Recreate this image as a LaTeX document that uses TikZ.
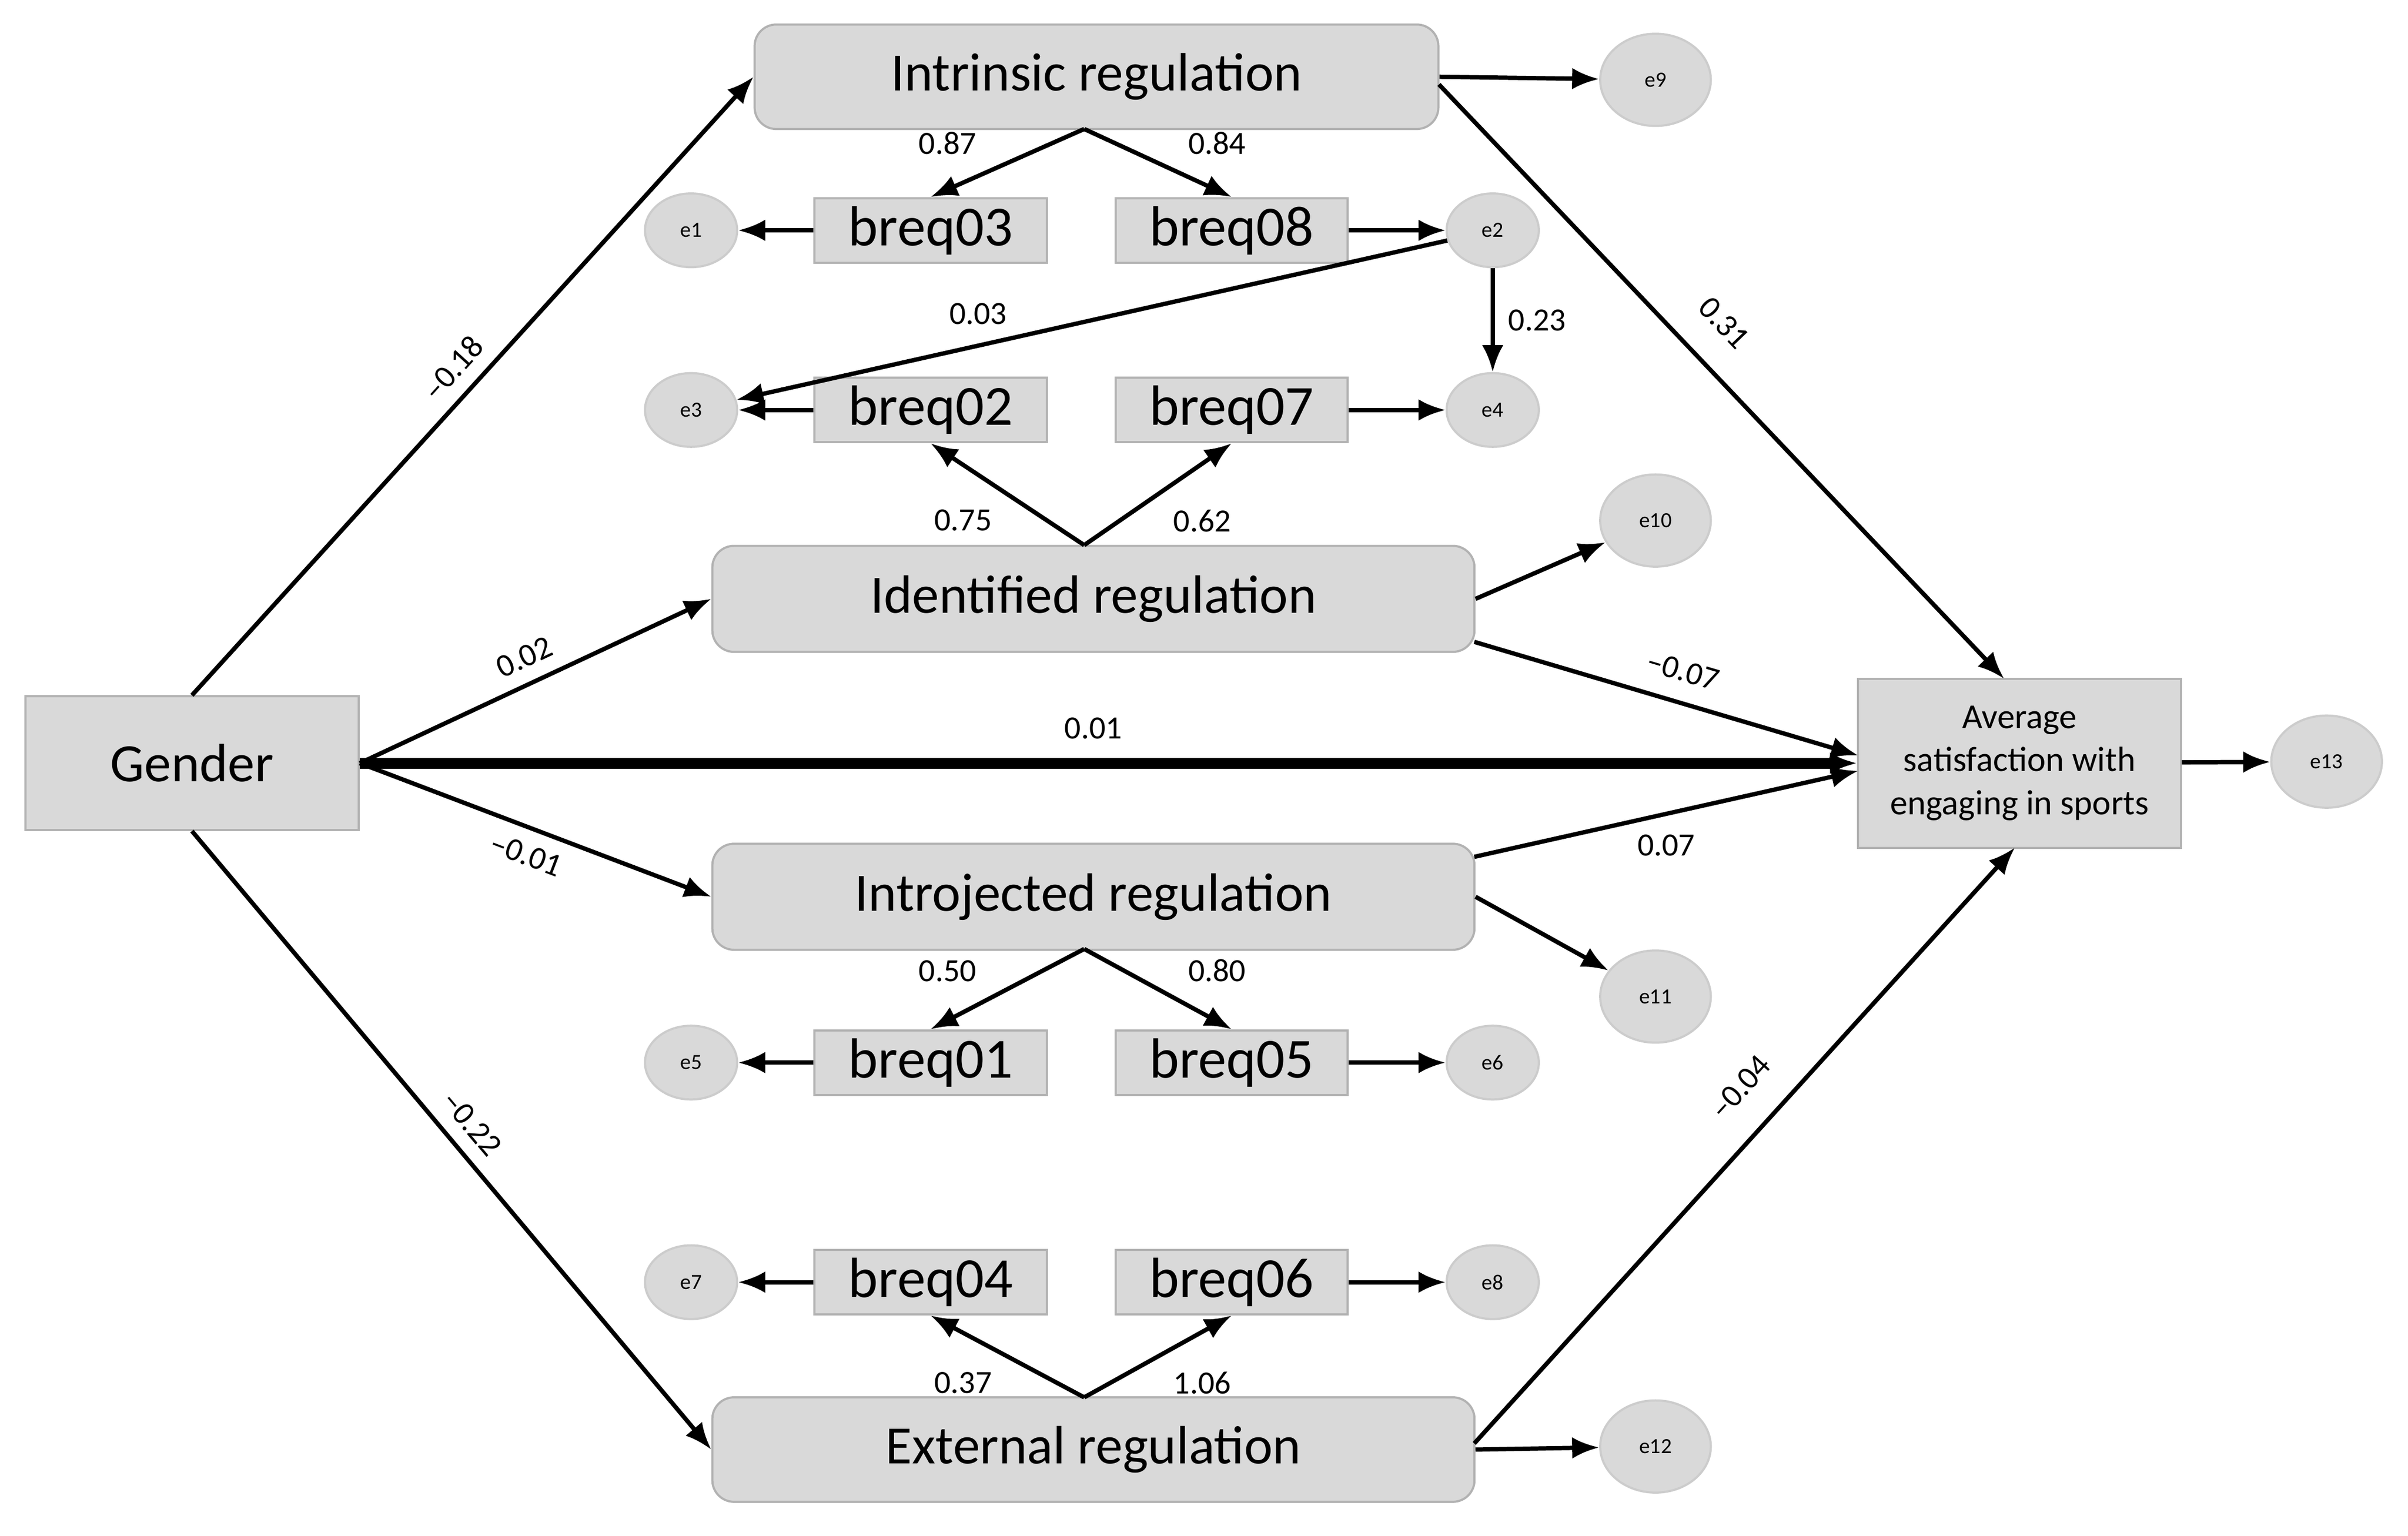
\documentclass[tikz,border=0pt]{standalone}
\usepackage{fontspec}
\setmainfont{Carlito}
\usetikzlibrary{arrows.meta,shapes.geometric}
\begin{document}
\begin{tikzpicture}[x=0.01cm,y=-0.01cm,
 big/.style={draw=gray!60,fill=gray!30,rounded corners=4pt,minimum width=4.96cm,minimum height=0.69cm,font=\fontsize{10}{12}\selectfont},
 item/.style={draw=gray!60,fill=gray!30,minimum width=1.51cm,minimum height=0.42cm,inner sep=0,font=\fontsize{10.5}{12}\selectfont},
 err/.style={ellipse,fill=gray!30,draw=gray!40,minimum width=0.6cm,minimum height=0.48cm,inner sep=0,font=\fontsize{4}{5}\selectfont},
 errb/.style={err,minimum width=0.72cm,minimum height=0.6cm},
 ar/.style={-{Latex[length=5pt,width=4pt]},line width=0.8pt},
 lb/.style={font=\fontsize{6}{7}\selectfont,inner sep=2.5pt}]
\useasboundingbox (0,0) rectangle (1568,1000);
\node[big,minimum width=4.45cm,minimum height=0.68cm] (intr) at (714,50) {Intrinsic regulation};
\node[big] (iden) at (712,390) {Identified regulation};
\node[big] (intro) at (712,584) {Introjected regulation};
\node[big,minimum height=0.68cm] (ext) at (712,944) {External regulation};
\node[draw=gray!60,fill=gray!30,minimum width=2.17cm,minimum height=0.87cm,font=\fontsize{10}{12}\selectfont] (g) at (125,497) {Gender};
\node[draw=gray!60,fill=gray!30,minimum width=2.1cm,minimum height=1.1cm,align=center,font=\fontsize{6.5}{8}\selectfont] (avg) at (1315,497) {Average\\satisfaction with\\engaging in sports};
\node[item] (b03) at (606,150) {breq03};
\node[item] (b08) at (802,150) {breq08};
\node[item] (b02) at (606,267) {breq02};
\node[item] (b07) at (802,267) {breq07};
\node[item] (b01) at (606,692) {breq01};
\node[item] (b05) at (802,692) {breq05};
\node[item] (b04) at (606,835) {breq04};
\node[item] (b06) at (802,835) {breq06};
\node[err] (e1) at (450,150) {e1};
\node[err] (e2) at (972,150) {e2};
\node[err] (e3) at (450,267) {e3};
\node[err] (e4) at (972,267) {e4};
\node[err] (e5) at (450,692) {e5};
\node[err] (e6) at (972,692) {e6};
\node[err] (e7) at (450,835) {e7};
\node[err] (e8) at (972,835) {e8};
\node[errb] (e9) at (1078,52) {e9};
\node[errb] (e10) at (1078,339) {e10};
\node[errb] (e11) at (1078,649) {e11};
\node[errb] (e12) at (1078,942) {e12};
\node[errb] (e13) at (1515,496) {e13};
\coordinate (ib) at (706,84);
\coordinate (dt) at (706,355);
\coordinate (tb) at (706,618);
\coordinate (xt) at (706,910);
% gender paths
\draw[ar] (g.north) -- node[lb,sloped,above] {–0.18} (intr.west);
\draw[ar] (g.east) -- node[lb,sloped,above,pos=0.5] {0.02} (iden.west);
\draw[ar,line width=2pt] (g.east) -- node[lb,above=1pt,pos=0.49] {0.01} (avg.west);
\draw[ar] (g.east) -- node[lb,sloped,below,pos=0.5] {–0.01} (intro.west);
\draw[ar] (g.south) -- node[lb,sloped,above] {–0.22} (ext.west);
% loadings
\draw[ar] (ib) -- node[lb,above left,pos=0.6] {0.87} (b03.north);
\draw[ar] (ib) -- node[lb,above right,pos=0.6] {0.84} (b08.north);
\draw[ar] (dt) -- node[lb,below left,pos=0.5] {0.75} (b02.south);
\draw[ar] (dt) -- node[lb,below right,pos=0.5] {0.62} (b07.south);
\draw[ar] (tb) -- node[lb,above left,pos=0.6] {0.50} (b01.north);
\draw[ar] (tb) -- node[lb,above right,pos=0.6] {0.80} (b05.north);
\draw[ar] (xt) -- node[lb,below left,pos=0.5] {0.37} (b04.south);
\draw[ar] (xt) -- node[lb,below right,pos=0.5] {1.06} (b06.south);
% errors
\draw[ar] (b03) -- (e1);
\draw[ar] (b08) -- (e2);
\draw[ar] (b02) -- (e3);
\draw[ar] (b07) -- (e4);
\draw[ar] (b01) -- (e5);
\draw[ar] (b05) -- (e6);
\draw[ar] (b04) -- (e7);
\draw[ar] (b06) -- (e8);
\draw[ar] (e2) -- node[lb,above=1pt,pos=0.66] {0.03} (e3);
\draw[ar] (e2) -- node[lb,right,pos=0.5] {0.23} (e4);
\draw[ar] (intr.east) -- (e9);
\draw[ar] (iden.east) -- (e10);
\draw[ar] (intro.east) -- (e11);
\draw[ar] (ext.east) -- (e12);
\draw[ar] (avg) -- (e13);
% to outcome
\draw[ar] (937,55) -- node[lb,sloped,above=3pt,pos=0.45] {0.31} (1305,442);
\draw[ar] (960,418) -- node[lb,sloped,above=1pt,pos=0.52] {–0.07} (1210,492);
\draw[ar] (960,558) -- node[lb,below=1pt,pos=0.5] {0.07} (1210,502);
\draw[ar] (960,940) -- node[lb,sloped,above=3pt,pos=0.55] {–0.04} (1312,552);
\end{tikzpicture}
\end{document}
